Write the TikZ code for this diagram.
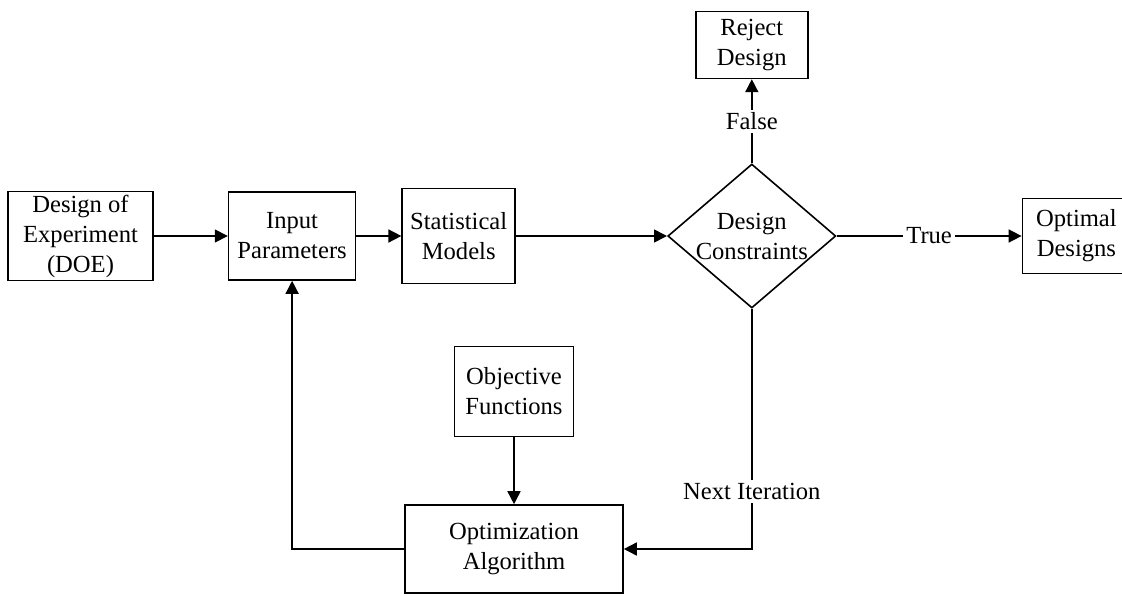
\documentclass[tikz,border=0pt]{standalone}
\usepackage{fontspec}
\setmainfont{Liberation Serif}
\usetikzlibrary{arrows.meta,positioning,shapes.geometric}

\begin{document}
\begin{tikzpicture}[x=0.5pt,y=-0.5pt,>={Triangle[length=6.5pt,width=6.5pt]},line width=0.8pt,
    font=\fontsize{12.3}{15}\selectfont,
    block/.style={draw,align=center,inner sep=0pt},
    decision/.style={draw,diamond,aspect=1.167,align=center,inner sep=-4pt,minimum width=84pt,minimum height=72pt},
    tag/.style={fill=white,inner sep=1.5pt}]
    \useasboundingbox (0,0) rectangle (1122,595);
    % Main row
    \node[block,minimum width=72.5pt,minimum height=44.5pt] (doe) at (80.5,236) {Design of\\Experiment\\(DOE)};
    \node[block,minimum width=63.5pt,minimum height=44pt,right=37pt of doe] (inp) {Input\\Parameters};
    \node[block,minimum width=56.5pt,minimum height=47.5pt,right=22.5pt of inp] (stat) {Statistical\\Models};
    \node[decision,right=75.5pt of stat] (dc) {Design\\Constraints};
    \node[block,minimum width=54pt,minimum height=37.5pt,right=92.5pt of dc] (optd) {Optimal\\Designs};
    \node[block,minimum width=56pt,minimum height=33.5pt,above=42pt of dc] (rej) {Reject\\Design};
    \draw[->] (doe) -- (inp);
    \draw[->] (inp) -- (stat);
    \draw[->] (stat) -- (dc);
    \draw[->] (dc) -- node[tag]{True} (optd);
    \draw[->] (dc) -- node[tag]{False} (rej);
    % Optimization loop
    \node[block,minimum width=109pt,minimum height=44pt] (alg) at (514,549) {Optimization\\Algorithm};
    \node[block,minimum width=59.5pt,minimum height=45pt,above=33.5pt of alg] (obj) {Objective\\Functions};
    \draw[->] (obj) -- (alg);
    \draw[->] (dc.south) |- node[tag,pos=0.38]{Next Iteration} (alg);
    \draw[->] (alg) -| (inp);
\end{tikzpicture}
\end{document}
